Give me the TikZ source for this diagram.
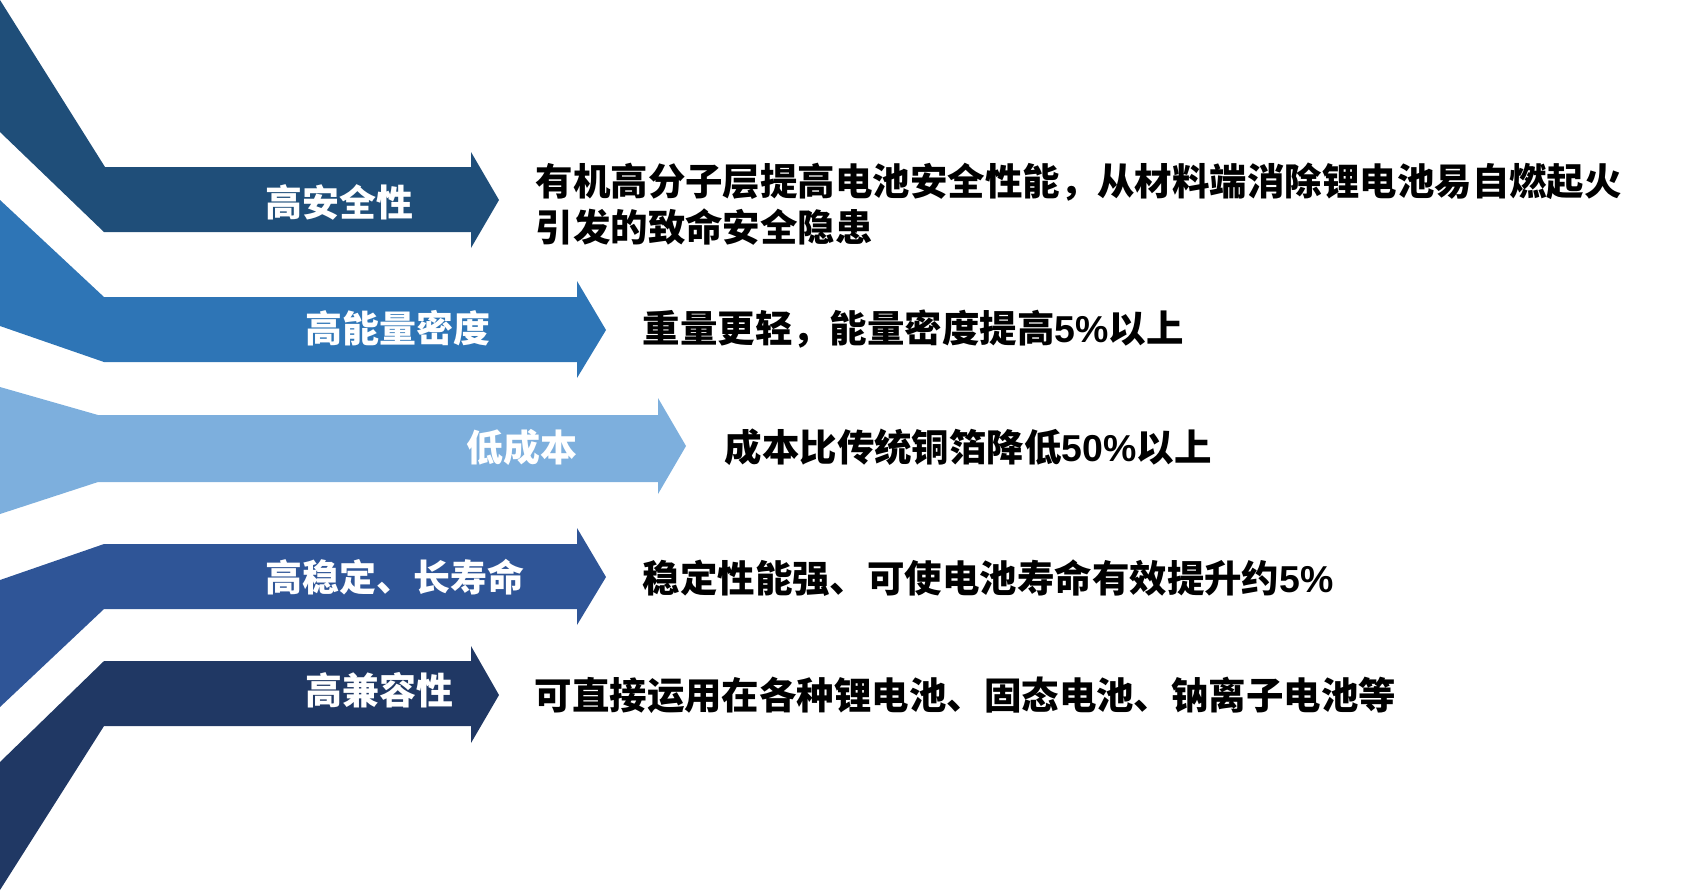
\documentclass[tikz,border=0pt]{standalone}
\usepackage{fontspec}
\setmainfont{Liberation Sans}
\newfontfamily\cjk{Noto Sans CJK SC}
\newfontfamily\arialfont{Liberation Sans}
\definecolor{safetyblue}{RGB}{31, 78, 121}
\definecolor{energyblue}{RGB}{46, 117, 182}
\definecolor{costblue}{RGB}{125, 175, 221}
\definecolor{lifeblue}{RGB}{47, 85, 151}
\definecolor{compatblue}{RGB}{32, 56, 100}
\usetikzlibrary{positioning}

\begin{document}
\begin{tikzpicture}[x=0.01cm, y=-0.01cm,
  bandtext/.style={anchor=west, inner sep=0pt, text=white, font=\cjk\bfseries\fontsize{10.5}{13}\selectfont},
  desctext/.style={anchor=west, inner sep=0pt, text=black, align=left, font=\cjk\bfseries\fontsize{10.65}{13}\selectfont}]
  \useasboundingbox (0,0) rectangle (1698,893);

  % High safety
  \fill[safetyblue] (0,0) -- (105,167) -- (471,167) -- (471,152) -- (499,200) -- (471,248) -- (471,232) -- (104,232) -- (0,132) -- cycle;
  \node[bandtext] (safety) at (265,202) {高安全性};
  \node[desctext] (safetytxt) at (535,204) {有机高分子层提高电池安全性能，从材料端消除锂电池易自燃起火\\引发的致命安全隐患};

  % High energy density
  \fill[energyblue] (0,200) -- (104,297) -- (577,297) -- (577,281) -- (606,330) -- (577,378) -- (577,362) -- (104,362) -- (0,326) -- cycle;
  \node[bandtext] (energy) at (305,328) {高能量密度};
  \node[desctext] (energytxt) at (642,329) {重量更轻，能量密度提高{\arialfont 5\%}以上};

  % Low cost
  \fill[costblue] (0,387) -- (98,415) -- (658,415) -- (658,398) -- (686,446) -- (658,494) -- (658,482) -- (98,482) -- (0,514) -- cycle;
  \node[bandtext] (cost) at (466,447) {低成本};
  \node[desctext] (costtxt) at (724,447) {成本比传统铜箔降低{\arialfont 50\%}以上};

  % Stability and life
  \fill[lifeblue] (0,580) -- (104,544) -- (577,544) -- (577,528) -- (606,577) -- (577,625) -- (577,609) -- (104,609) -- (0,707) -- cycle;
  \node[bandtext] (life) at (265,577) {高稳定、长寿命};
  \node[desctext] (lifetxt) at (642,578) {稳定性能强、可使电池寿命有效提升约{\arialfont 5\%}};

  % Compatibility
  \fill[compatblue] (0,762) -- (104,661) -- (471,661) -- (471,646) -- (499,695) -- (471,743) -- (471,726) -- (104,726) -- (0,890) -- cycle;
  \node[bandtext] (compat) at (305,690) {高兼容性};
  \node[desctext] (compattxt) at (534,695) {可直接运用在各种锂电池、固态电池、钠离子电池等};
\end{tikzpicture}
\end{document}
